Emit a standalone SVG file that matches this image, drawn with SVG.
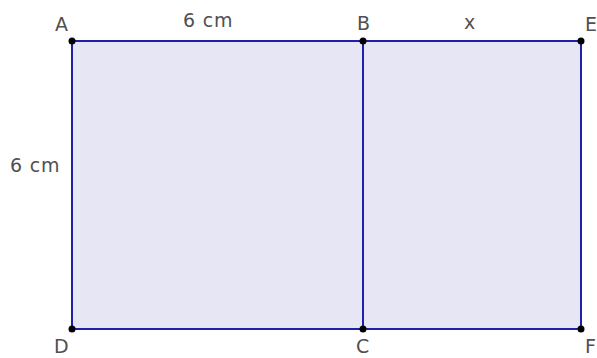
<svg xmlns="http://www.w3.org/2000/svg" width="597" height="358" viewBox="0 0 597 358">
<style>
.t{font-family:"DejaVu Sans",Verdana,sans-serif;font-size:19px;fill:#505050}
.r{fill:#e6e6f5;stroke:none}
.e{stroke:#2020a8;stroke-width:2;fill:none}
.p{fill:#000}
</style>
<rect width="597" height="358" fill="#fff"/>
<g id="rect1"><rect class="r" x="72" y="41" width="291" height="288"/></g>
<g id="rect2"><rect class="r" x="363" y="41" width="218" height="288"/></g>
<g id="connectors">
<line class="e" x1="72" y1="41" x2="581" y2="41"/>
<line class="e" x1="72" y1="329" x2="581" y2="329"/>
<line class="e" x1="72" y1="41" x2="72" y2="329"/>
<line class="e" x1="363" y1="41" x2="363" y2="329"/>
<line class="e" x1="581" y1="41" x2="581" y2="329"/>
</g>
<g id="A"><circle class="p" cx="72" cy="41" r="3.5"/><text class="t" x="55" y="31">A</text></g>
<g id="B"><circle class="p" cx="363" cy="41" r="3.5"/><text class="t" x="357" y="30">B</text></g>
<g id="E"><circle class="p" cx="581" cy="41" r="3.5"/><text class="t" x="585" y="31">E</text></g>
<g id="D"><circle class="p" cx="72" cy="329" r="3.5"/><text class="t" x="54" y="353">D</text></g>
<g id="C"><circle class="p" cx="363" cy="329" r="3.5"/><text class="t" x="356" y="353">C</text></g>
<g id="F"><circle class="p" cx="581" cy="329" r="3.5"/><text class="t" x="585" y="353">F</text></g>
<g id="labels">
<text class="t" x="183" y="27" letter-spacing="0.8">6 cm</text>
<text class="t" x="464" y="29">x</text>
<text class="t" x="10" y="172" letter-spacing="0.8">6 cm</text>
</g>
</svg>
